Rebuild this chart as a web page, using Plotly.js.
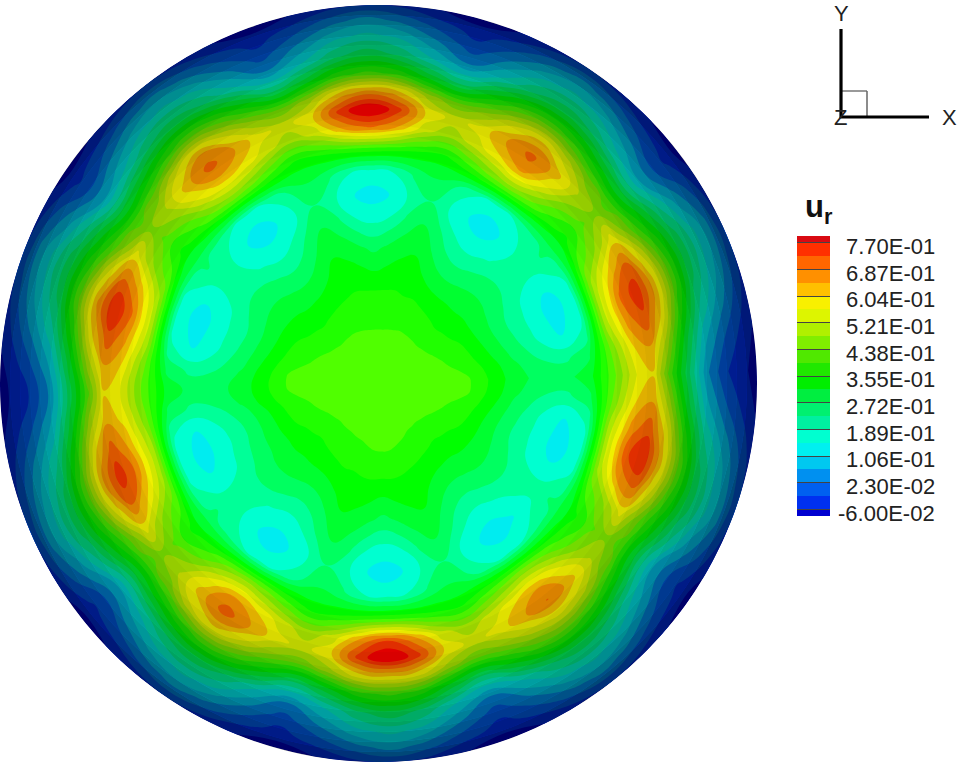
<!DOCTYPE html>
<html>
<head>
<meta charset="utf-8">
<script src="https://cdn.plot.ly/plotly-3.0.1.min.js"></script>
<style>html,body{margin:0;padding:0;background:#fff}</style>
</head>
<body>
<div id="plot" style="width:957px;height:764px"></div>
<script>
// Angles in degrees, one column per angle (the last column closes the circle in the script below)
const angles = [2,8,14,20,26,32,38,44,50,56,62,68,74,80,86,92,98,104,110,116,122,128,134,140,146,152,158,164,170,176,182,188,194,200,206,212,218,224,230,236,242,248,254,260,266,272,278,284,290,296,302,308,314,320,326,332,338,344,350,356];
// Radii as a fraction of the disc radius, one row per radius
const radii = [0,0.12,0.24,0.36,0.44,0.50,0.56,0.62,0.68,0.725,0.77,0.82,0.87,0.92,0.96,1];

// u_r, row by row, six angles to a group
const ur = [
[.43,.43,.43,.43,.43,.43, .43,.43,.43,.43,.43,.43, .43,.43,.43,.43,.43,.43, .43,.43,.43,.43,.43,.43, .43,.43,.43,.43,.43,.43, .43,.43,.43,.43,.43,.43, .43,.43,.43,.43,.43,.43, .43,.43,.43,.43,.43,.43, .43,.43,.43,.43,.43,.43, .43,.43,.43,.43,.43,.43],
[.432,.43,.428,.425,.42,.415, .412,.41,.41,.41,.41,.41, .408,.406,.405,.405,.405,.406, .408,.41,.41,.41,.41,.412, .415,.42,.425,.428,.43,.432, .432,.43,.428,.425,.42,.415, .412,.41,.41,.41,.41,.412, .415,.42,.425,.428,.428,.425, .42,.415,.41,.41,.41,.412, .415,.42,.425,.428,.43,.432],
[.40,.39,.375,.365,.355,.345, .34,.335,.34,.345,.35,.355, .355,.36,.36,.36,.36,.36, .355,.35,.345,.34,.335,.34, .345,.355,.365,.375,.39,.40, .40,.39,.375,.365,.355,.345, .34,.335,.34,.345,.35,.355, .355,.36,.365,.365,.365,.36, .355,.35,.345,.34,.335,.34, .345,.355,.365,.375,.39,.40],
[.29,.28,.26,.245,.24,.25, .26,.26,.25,.24,.25,.28, .31,.30,.28,.26,.28,.30, .31,.28,.25,.24,.25,.26, .26,.25,.24,.245,.26,.28, .29,.28,.25,.24,.245,.25, .26,.26,.25,.24,.25,.28, .31,.30,.28,.26,.28,.30, .31,.28,.25,.24,.25,.26, .26,.25,.24,.245,.26,.28],
[.25,.23,.19,.175,.175,.19, .205,.20,.18,.165,.185,.23, .27,.24,.19,.17,.19,.24, .27,.23,.185,.165,.18,.20, .205,.19,.175,.175,.19,.23, .25,.23,.19,.17,.175,.19, .205,.20,.18,.165,.185,.23, .27,.24,.19,.17,.19,.24, .27,.23,.185,.165,.18,.20, .205,.19,.175,.175,.19,.23],
[.26,.22,.15,.13,.13,.17, .21,.19,.15,.125,.15,.19, .23,.20,.15,.13,.15,.20, .23,.19,.15,.125,.15,.19, .21,.17,.13,.13,.15,.22, .26,.22,.15,.13,.135,.17, .21,.19,.15,.125,.15,.19, .23,.20,.15,.125,.15,.20, .23,.19,.15,.125,.14,.17, .21,.17,.13,.13,.15,.22],
[.30,.26,.20,.175,.175,.20, .24,.22,.19,.17,.19,.23, .27,.24,.19,.175,.19,.24, .27,.23,.19,.17,.19,.22, .24,.20,.175,.175,.20,.26, .30,.26,.195,.175,.18,.20, .24,.22,.19,.17,.19,.23, .27,.24,.19,.175,.19,.24, .27,.23,.19,.17,.19,.22, .24,.20,.175,.175,.20,.26],
[.42,.44,.49,.50,.47,.40, .34,.37,.42,.45,.43,.38, .335,.35,.37,.38,.37,.35, .335,.38,.43,.45,.42,.37, .34,.40,.47,.50,.49,.44, .42,.44,.48,.49,.46,.40, .34,.37,.42,.45,.43,.38, .335,.35,.37,.38,.37,.35, .335,.38,.42,.44,.41,.37, .34,.40,.47,.50,.49,.44],
[.56,.60,.67,.70,.62,.49, .43,.47,.57,.665,.60,.54, .49,.54,.65,.70,.65,.54, .49,.54,.60,.63,.57,.47, .43,.49,.63,.70,.66,.60, .56,.59,.64,.68,.61,.49, .43,.47,.58,.65,.60,.54, .49,.54,.66,.73,.66,.54, .49,.54,.60,.64,.57,.47, .43,.49,.65,.72,.67,.60],
[.60,.65,.72,.755,.69,.58, .47,.53,.63,.70,.65,.58, .545,.60,.75,.82,.75,.60, .545,.58,.65,.705,.63,.53, .47,.58,.70,.769,.72,.65, .60,.64,.71,.755,.69,.58, .47,.53,.63,.71,.65,.58, .545,.60,.75,.82,.75,.60, .545,.58,.64,.69,.63,.53, .47,.58,.70,.769,.72,.65],
[.42,.50,.60,.635,.57,.46, .42,.46,.54,.61,.56,.48, .44,.50,.62,.67,.62,.50, .44,.48,.56,.64,.56,.46, .42,.46,.58,.66,.60,.50, .42,.50,.60,.65,.58,.46, .42,.46,.56,.62,.56,.48, .44,.50,.60,.62,.60,.50, .44,.48,.54,.58,.54,.46, .42,.46,.57,.63,.59,.50],
[.24,.29,.38,.44,.40,.33, .26,.31,.38,.42,.40,.32, .23,.29,.38,.41,.38,.29, .23,.32,.40,.43,.38,.31, .26,.33,.40,.45,.38,.29, .24,.29,.38,.44,.40,.33, .26,.31,.38,.43,.40,.32, .23,.29,.38,.41,.38,.29, .23,.32,.40,.42,.38,.31, .26,.33,.40,.44,.38,.29],
[.07,.12,.20,.26,.26,.20, .11,.16,.23,.26,.23,.15, .075,.14,.22,.26,.22,.14, .075,.15,.23,.26,.23,.16, .11,.20,.26,.26,.20,.12, .07,.12,.20,.26,.26,.20, .11,.16,.23,.26,.23,.15, .075,.14,.22,.26,.22,.14, .075,.15,.23,.26,.23,.16, .11,.20,.26,.26,.20,.12],
[-.015,.03,.10,.15,.16,.09, .02,.07,.13,.16,.13,.06, .0,.06,.13,.16,.13,.06, .0,.06,.13,.16,.13,.07, .02,.09,.16,.15,.10,.03, -.015,.03,.10,.15,.16,.09, .02,.07,.13,.16,.13,.06, .0,.06,.13,.16,.13,.06, .0,.06,.13,.16,.13,.07, .02,.09,.16,.15,.10,.03],
[-.045,-.02,.03,.07,.08,.03, -.03,.0,.05,.08,.05,.0, -.035,.0,.05,.085,.05,.0, -.035,.0,.05,.08,.05,.0, -.03,.03,.08,.07,.03,-.02, -.045,-.02,.03,.07,.08,.03, -.03,.0,.05,.08,.05,.0, -.035,.0,.05,.085,.05,.0, -.035,.0,.05,.08,.05,.0, -.03,.03,.08,.07,.03,-.02],
[-.08,-.065,-.04,-.02,-.02,-.045, -.075,-.06,-.035,-.015,-.035,-.06, -.08,-.06,-.03,-.01,-.03,-.06, -.08,-.06,-.035,-.015,-.035,-.06, -.075,-.045,-.02,-.02,-.04,-.065, -.08,-.065,-.04,-.02,-.02,-.045, -.075,-.06,-.035,-.015,-.035,-.06, -.08,-.06,-.03,-.01,-.03,-.06, -.08,-.06,-.035,-.015,-.035,-.06, -.075,-.045,-.02,-.02,-.04,-.065]
];

const levelStart = -0.06;
const levelStep = 0.0415;
const tickVals = [0.77,0.687,0.604,0.521,0.438,0.355,0.272,0.189,0.106,0.023,-0.06];
const tickText = ['7.70E-01','6.87E-01','6.04E-01','5.21E-01','4.38E-01','3.55E-01','2.72E-01','1.89E-01','1.06E-01','2.30E-02','-6.00E-02'];

// band colours from lowest to highest
const discColors = ['#0000d0','#0030f0','#0060f0','#0090f0','#00c8f0','#00ecf0','#00ffd0','#00ff98','#00ff60','#00ff30','#00ff00','#20ff00','#50ff00','#80f000','#b0f000','#ddf500','#ffff00','#ffc800','#ff9800','#ff6600','#ff3500','#ff0000'];
const legendColors = ['#0000d0','#0030f0','#0060f0','#0090f0','#00c8f0','#00f0f0','#00ffd0','#00f0a0','#00f070','#00ee40','#00ee00','#20e800','#50e800','#80ee00','#b0f000','#ddf500','#f8f000','#ffc000','#ff9000','#ff6600','#ff3000','#d90a12'];

// darkening towards the rim of the disc, outermost ring first
const rimShade = [.50,.44,.40,.36,.33,.30,.27,.24,.21,.18,.15,.12,.09,.06,.03];

const W = 957, H = 764, CX = 378.5, CY = 383.5, R = 378.5;

const closedAngles = angles.concat([angles[0] + 360]);
const closedUr = ur.map(row => row.concat([row[0]]));
const gridX = radii.map(r => closedAngles.map(a => r * Math.cos(a * Math.PI / 180)));
const gridY = radii.map(r => closedAngles.map(a => r * Math.sin(a * Math.PI / 180)));

const stops = cols => cols.map((c, i) => [i / (cols.length - 1), c]);

const hiddenCarpetAxis = {
    showgrid: false, showline: false, startline: false, endline: false,
    showticklabels: 'none', minorgridcount: 0, smoothing: 1, ticks: ''
};

const carpet = {
    type: 'carpet', carpet: 'disc',
    a: closedAngles, b: radii, x: gridX, y: gridY,
    aaxis: hiddenCarpetAxis, baxis: hiddenCarpetAxis
};

const contour = {
    type: 'contourcarpet', carpet: 'disc',
    a: closedAngles, b: radii, z: closedUr,
    autocontour: false,
    contours: { start: levelStart, end: 0.7701, size: levelStep, coloring: 'fill', showlines: false },
    line: { width: 0, smoothing: 1.3 },
    colorscale: stops(discColors),
    zauto: false, zmin: levelStart - levelStep / 2, zmax: 0.77 + levelStep / 2,
    showscale: false
};

// legend bar
const bandEdges = legendColors.map((c, i) => i === 0 ? levelStart - levelStep / 2 : levelStart + (i - 1) * levelStep);
bandEdges.push(0.77 + levelStep / 2);
const legendBar = {
    type: 'heatmap', xaxis: 'x2', yaxis: 'y2',
    x: [0, 1], y: bandEdges,
    z: legendColors.map((c, i) => [i]),
    zmin: 0, zmax: legendColors.length - 1,
    colorscale: stops(legendColors),
    showscale: false, hoverinfo: 'skip'
};

const px = x => x / W;
const py = y => 1 - y / H;

const shapes = rimShade.map((a, k) => {
    const r = (R - 5 - k * 10) / R;
    return {
        type: 'circle', xref: 'x', yref: 'y', layer: 'above',
        x0: -r, x1: r, y0: -r, y1: r,
        line: { color: `rgba(0,0,0,${a})`, width: 10 }, fillcolor: 'rgba(0,0,0,0)'
    };
});
const triadLine = (x0, y0, x1, y1, color, width) => ({
    type: 'line', xref: 'paper', yref: 'paper',
    x0: px(x0), y0: py(y0), x1: px(x1), y1: py(y1),
    line: { color: color, width: width }
});
shapes.push(
    triadLine(841, 91, 867, 91, '#777', 1.5),
    triadLine(867, 91, 867, 118, '#666', 1.5),
    triadLine(841, 29, 841, 118, '#000', 3.2),
    triadLine(840, 117, 929, 117, '#000', 3.2)
);

const textFont = { family: 'Liberation Sans, Arial, sans-serif', size: 22, color: '#222' };
const triadText = (t, x, y) => ({
    text: t, xref: 'paper', yref: 'paper', x: px(x), y: py(y),
    xanchor: 'center', yanchor: 'middle', showarrow: false, font: textFont
});
const annotations = tickText.map((t, i) => ({
    text: t, xref: 'paper', yref: 'y2', x: px(937), y: tickVals[i],
    xanchor: 'right', yanchor: 'middle', yshift: -4, showarrow: false, font: textFont
}));
annotations.push(
    triadText('Y', 841, 13),
    triadText('X', 949, 117),
    triadText('Z', 840, 117),
    {
        text: '<b>u<sub>r</sub></b>', xref: 'paper', yref: 'paper', x: px(803), y: py(231),
        xanchor: 'left', yanchor: 'bottom', showarrow: false,
        font: { family: 'Liberation Sans, Arial, sans-serif', size: 31, color: '#111' }
    }
);

const layout = {
    width: W, height: H,
    margin: { l: 0, r: 0, t: 0, b: 0 },
    paper_bgcolor: '#fff', plot_bgcolor: 'rgba(0,0,0,0)',
    showlegend: false,
    xaxis: { range: [-CX / R, (W - CX) / R], domain: [0, 1], visible: false, fixedrange: true },
    yaxis: { range: [(CY - H) / R, CY / R], domain: [0, 1], visible: false, fixedrange: true },
    xaxis2: { range: [0, 1], domain: [px(797), px(830)], visible: false, anchor: 'y2', fixedrange: true },
    yaxis2: {
        range: [levelStart - levelStep / 2, 0.77 + levelStep / 2],
        domain: [py(516), py(236)], anchor: 'x2', side: 'left', fixedrange: true,
        tickmode: 'array', tickvals: tickVals, showticklabels: false,
        ticks: 'inside', ticklen: 33, tickwidth: 1, tickcolor: '#444',
        showgrid: false, zeroline: false, showline: false
    },
    shapes: shapes,
    annotations: annotations
};

Plotly.newPlot('plot', [carpet, contour, legendBar], layout, { staticPlot: true });
</script>
</body>
</html>
